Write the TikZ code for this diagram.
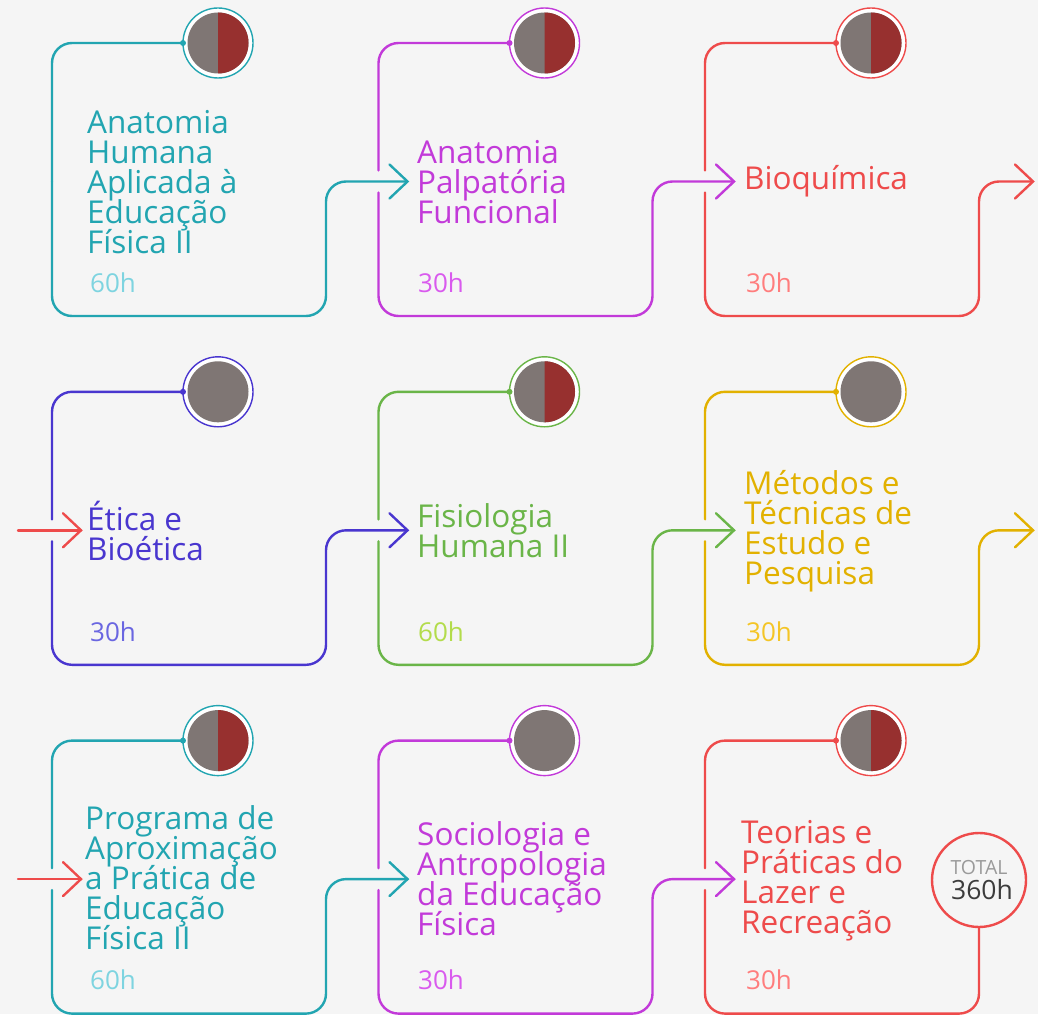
\documentclass[tikz,border=0pt]{standalone}
\usepackage{fontspec}
\setmainfont{Open Sans}
\usetikzlibrary{calc}
\definecolor{bg}{HTML}{F5F5F5}
\definecolor{cteal}{HTML}{22A5B1}
\definecolor{hteal}{HTML}{7ED4E0}
\definecolor{cmag}{HTML}{C23AD9}
\definecolor{hmag}{HTML}{D95AEE}
\definecolor{cred}{HTML}{EE4B4B}
\definecolor{hred}{HTML}{FF7D7D}
\definecolor{cblue}{HTML}{4936CF}
\definecolor{hblue}{HTML}{6A66E1}
\definecolor{cgreen}{HTML}{6AB548}
\definecolor{hgreen}{HTML}{B3DC4B}
\definecolor{cgold}{HTML}{E2B100}
\definecolor{hgold}{HTML}{F4C526}
\definecolor{dgray}{HTML}{7F7674}
\definecolor{dred}{HTML}{97302F}
\definecolor{totgray}{HTML}{9A9A9A}
\definecolor{totdark}{HTML}{3C3C3C}
\newcommand\tightlines{\lineskiplimit=-30pt\relax\lineskip=0pt\relax}
\tikzset{
 frame/.style={draw=#1, line width=2.4pt, rounded corners=20pt, line cap=round},
 tipline/.style={draw=#1, line width=2.4pt, line cap=round, line join=miter},
 ring/.style={circle, draw=#1, line width=1.4pt, fill=white, minimum size=70pt, inner sep=0pt, outer sep=0pt},
 title/.style={text=#1, font=\fontsize{31.5}{30}\selectfont, execute at begin node=\tightlines, align=left, anchor=base west, inner sep=0pt},
 hours/.style={text=#1, font=\fontsize{26}{26}\selectfont, anchor=base west, inner sep=0pt},
}
\begin{document}
\begin{tikzpicture}[x=1pt,y=-1pt]
\fill[bg] (0,0) rectangle (1038,1014);
\useasboundingbox (0,0) rectangle (1038,1014);

% entry coordinates of each card
\foreach \i in {0,1,2}{
 \foreach \j in {0,1,2}{
  \pgfmathsetmacro\L{52+326.5*\i}
  \pgfmathsetmacro\A{43+348.8*\j+138.5}
  \coordinate (in\i\j) at (\L+29,\A);
 }
}
\coordinate (out0) at (1033,181.5);
\coordinate (out1) at (1033,530.3);
\coordinate (src1) at (18,530.3);
\coordinate (src2) at (18,879.1);

% total
\node[circle, draw=cred, line width=2.4pt, fill=bg, minimum size=94pt, inner sep=0pt, outer sep=0pt] (tot) at (979,880) {};
\node[text=totgray, font=\fontsize{19.5}{19.5}\selectfont, anchor=base, inner sep=0pt] (totlab) at (979,874) {TOTAL};
\node[text=totdark, font=\fontsize{26.5}{26.5}\selectfont, anchor=base, inner sep=0pt] (totval) at (982,899) {360h};

% cards
\foreach \i/\j/\col/\split/\gap in {0/0/cteal/1/0, 1/0/cmag/1/1, 2/0/cred/1/1, 0/1/cblue/0/1, 1/1/cgreen/1/1, 2/1/cgold/0/1, 0/2/cteal/1/1, 1/2/cmag/0/1, 2/2/cred/1/1}{
  \pgfmathsetmacro\L{52+326.5*\i}
  \pgfmathsetmacro\R{\L+274}
  \pgfmathsetmacro\T{43+348.8*\j}
  \pgfmathsetmacro\B{\T+273}
  \pgfmathsetmacro\A{\T+138.5}
  \pgfmathsetmacro\cx{\L+166}
  \pgfmathtruncatemacro\ni{\i+1}
  \node[ring=\col] (c\i\j) at (\cx,\T) {};
  \fill[dgray] (\cx,\T) circle (30.5pt);
  \ifnum\split=1
    \fill[dred] (\cx,\T) ++(0,-30.5) arc[start angle=90, end angle=-90, radius=30.5pt] -- cycle;
  \fi
  \fill[\col] (c\i\j.west) circle (3pt);
  \ifnum\gap=1
    \draw[frame=\col] (c\i\j.west) -- (\L,\T) -- (\L,\A-11);
    \coordinate (st\i\j) at (\L,\A+11);
  \else
    \draw[frame=\col] (c\i\j.west) -- (\L,\T) -- (\L,\A);
    \coordinate (st\i\j) at (\L,\A);
  \fi
  \ifnum\i<2
    \draw[frame=\col] (st\i\j) -- (\L,\B) -- (\R,\B) -- (\R,\A) -- (in\ni\j);
    \draw[tipline=\col] ($(in\ni\j)+(-18,-17)$) -- (in\ni\j) -- ($(in\ni\j)+(-18,17)$);
  \else
    \ifnum\j<2
      \draw[frame=\col] (st\i\j) -- (\L,\B) -- (\R,\B) -- (\R,\A) -- (out\j);
      \draw[tipline=\col] ($(out\j)+(-18,-17)$) -- (out\j) -- ($(out\j)+(-18,17)$);
    \else
      \draw[frame=\col] (st\i\j) -- (\L,\B) -- (\R,\B) -- (tot.south);
    \fi
  \fi
}

% incoming wrap arrows
\draw[tipline=cred] (src1) -- (in01);
\draw[tipline=cred] ($(in01)+(-18,-17)$) -- (in01) -- ($(in01)+(-18,17)$);
\draw[tipline=cred] (src2) -- (in02);
\draw[tipline=cred] ($(in02)+(-18,-17)$) -- (in02) -- ($(in02)+(-18,17)$);

% titles (anchor = baseline of last line)
\node[title=cteal] (t00) at (87,253) {Anatomia\\Humana\\Aplicada à\\Educação\\Física II};
\node[title=cmag] (t10) at (417,223) {Anatomia\\Palpatória\\Funcional};
\node[title=cred] (t20) at (744,189) {Bioquímica};
\node[title=cblue] (t01) at (87,560) {Ética e\\Bioética};
\node[title=cgreen] (t11) at (417,557) {Fisiologia\\Humana II};
\node[title=cgold] (t21) at (744,584) {Métodos e\\Técnicas de\\Estudo e\\Pesquisa};
\node[title=cteal] (t02) at (85,949) {Programa de\\Aproximação\\a Prática de\\Educação\\Física II};
\node[title=cmag] (t12) at (417,935) {Sociologia e\\Antropologia\\da Educação\\Física};
\node[title=cred] (t22) at (741,933) {Teorias e\\Práticas do\\Lazer e\\Recreação};

% hours
\node[hours=hteal] (h00) at (90,292) {60h};
\node[hours=hmag] (h10) at (418,292) {30h};
\node[hours=hred] (h20) at (746,292) {30h};
\node[hours=hblue] (h01) at (90,641) {30h};
\node[hours=hgreen] (h11) at (418,641) {60h};
\node[hours=hgold] (h21) at (746,641) {30h};
\node[hours=hteal] (h02) at (90,989) {60h};
\node[hours=hmag] (h12) at (418,989) {30h};
\node[hours=hred] (h22) at (746,989) {30h};
\end{tikzpicture}
\end{document}
